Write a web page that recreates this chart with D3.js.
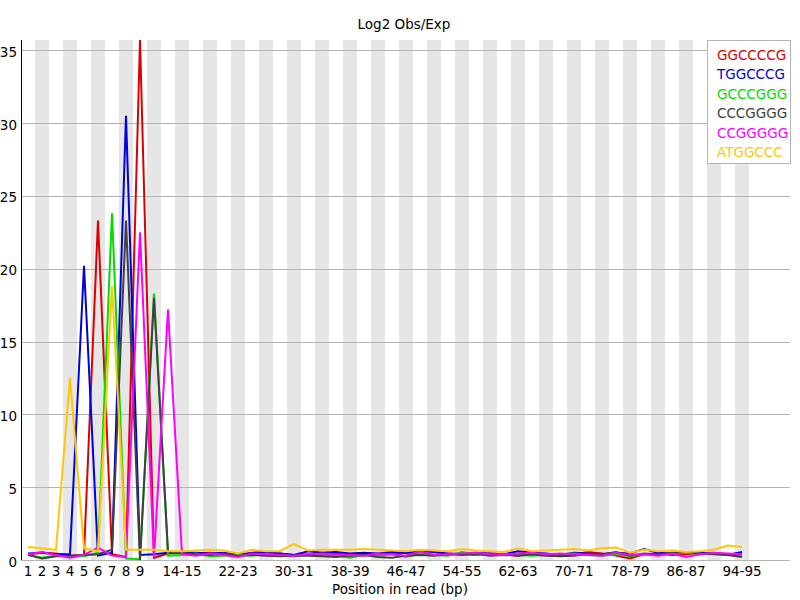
<!DOCTYPE html>
<html><head><meta charset="utf-8">
<script src="https://cdn.jsdelivr.net/npm/d3@7"></script>
<style>body{margin:0;background:#fff}svg{display:block;font-family:"DejaVu Sans",sans-serif}</style>
</head><body><svg id="c" width="800" height="600"></svg>
<script>
const categories = ["1","2","3","4","5","6","7","8","9"];
for (let p = 10; p <= 94; p += 2) categories.push(p + "-" + (p + 1));
const tickLabels = ["1","2","3","4","5","6","7","8","9","14-15","22-23","30-31","38-39","46-47","54-55","62-63","70-71","78-79","86-87","94-95"];
const seriesNames = ["GGCCCCG","TGGCCCG","GCCCGGG","CCCGGGG","CCGGGGG","ATGGCCC"];
const seriesColors = ["#dc0000","#0000dc","#00dc00","#404040","#ff00ff","#ffc800"];
const red = [0.4,0.5,0.45,0.3,0.35,23.3,0.4,0.2,35.7,0.15,0.45,0.5,0.45,0.5,0.35,0.4,0.45,0.4,0.45,0.35,0.4,0.5,0.45,0.3,0.4,0.35,0.45,0.5,0.4,0.35,0.45,0.4,0.35,0.45,0.4,0.3,0.5,0.35,0.3,0.4,0.55,0.45,0.3,0.1,0.4,0.45,0.35,0.4,0.5,0.45,0.4,0.45];
const blue = [0.45,0.5,0.4,0.4,20.2,0.3,0.5,30.5,0.35,0.4,0.5,0.55,0.5,0.45,0.5,0.35,0.5,0.55,0.45,0.35,0.6,0.5,0.55,0.45,0.5,0.45,0.55,0.5,0.6,0.55,0.45,0.4,0.5,0.45,0.4,0.6,0.5,0.45,0.35,0.5,0.45,0.4,0.5,0.45,0.75,0.5,0.45,0.55,0.5,0.45,0.35,0.55];
const green = [0.35,0.15,0.3,0.25,0.25,0.5,23.8,0.1,0.05,18.3,0.3,0.35,0.45,0.25,0.3,0.35,0.3,0.4,0.35,0.25,0.4,0.35,0.3,0.15,0.35,0.3,0.4,0.2,0.45,0.35,0.3,0.55,0.4,0.35,0.4,0.35,0.3,0.35,0.4,0.45,0.35,0.3,0.4,0.25,0.4,0.35,0.45,0.5,0.4,0.45,0.35,0.3];
const gray = [0.35,0.1,0.25,0.3,0.35,0.4,0.7,23.3,0.0,18.0,0.6,0.5,0.4,0.35,0.45,0.3,0.35,0.3,0.25,0.3,0.3,0.25,0.2,0.3,0.35,0.2,0.15,0.3,0.35,0.3,0.4,0.35,0.45,0.3,0.35,0.3,0.4,0.3,0.25,0.3,0.45,0.4,0.55,0.3,0.45,0.4,0.5,0.55,0.45,0.4,0.35,0.2];
const magenta = [0.4,0.55,0.35,0.15,0.35,0.85,0.3,0.2,22.5,0.15,17.2,0.4,0.3,0.45,0.35,0.2,0.45,0.4,0.35,0.3,0.4,0.45,0.4,0.35,0.3,0.45,0.4,0.3,0.6,0.35,0.4,0.45,0.5,0.4,0.35,0.45,0.5,0.4,0.45,0.4,0.35,0.3,0.5,0.35,0.4,0.3,0.45,0.2,0.4,0.5,0.45,0.4];
const yellow = [0.9,0.8,0.7,12.5,0.8,0.6,18.8,0.7,0.7,0.7,0.6,0.6,0.65,0.7,0.65,0.45,0.7,0.6,0.6,1.1,0.65,0.7,0.7,0.7,0.75,0.7,0.65,0.6,0.7,0.65,0.6,0.75,0.65,0.6,0.55,0.8,0.6,0.65,0.7,0.75,0.65,0.8,0.85,0.5,0.7,0.6,0.65,0.55,0.6,0.7,1.0,0.9];
const yTicks = [0,5,10,15,20,25,30,35];
const title = "Log2 Obs/Exp";
const xTitle = "Position in read (bp)";

const series = [red, blue, green, gray, magenta, yellow];
const svg = d3.select("#c");
const L = 21, R = 790, T = 40, B = 560;
const x = d3.scaleBand().domain(categories).range([L, L + categories.length * 14]);
const ymax = d3.max(series, s => d3.max(s));
const y = d3.scaleLinear().domain([0, ymax]).range([B, T]);

// stripes
svg.append("g").selectAll("rect").data(categories.filter((d, i) => i % 2 === 1)).join("rect")
  .attr("x", d => x(d)).attr("y", T).attr("width", x.bandwidth()).attr("height", B - T)
  .attr("fill", "#e6e6e6");
// grid
svg.append("g").selectAll("line").data(yTicks).join("line")
  .attr("x1", L).attr("x2", R).attr("y1", d => Math.round(y(d)) + 0.5).attr("y2", d => Math.round(y(d)) + 0.5)
  .attr("stroke", "#b4b4b4").attr("stroke-width", 1);
// y axis
svg.append("line").attr("x1", L + 0.5).attr("x2", L + 0.5).attr("y1", T).attr("y2", B).attr("stroke", "#000");
svg.append("g").selectAll("text").data(yTicks).join("text")
  .attr("x", 17).attr("y", d => y(d) + 6.5).attr("text-anchor", "end")
  .attr("font-size", 13.5).attr("fill", "#000").text(d => d);
// x labels
svg.append("g").selectAll("text").data(tickLabels).join("text")
  .attr("x", d => x(d) + x.bandwidth() / 2).attr("y", 576).attr("text-anchor", "middle")
  .attr("font-size", 13.5).attr("fill", "#000").text(d => d);
svg.append("text").attr("x", 400).attr("y", 594).attr("text-anchor", "middle")
  .attr("font-size", 13.5).text(xTitle);
svg.append("text").attr("x", 404).attr("y", 29).attr("text-anchor", "middle")
  .attr("font-size", 13.5).text(title);
// lines
const line = d3.line().x((d, i) => x(categories[i]) + x.bandwidth() / 2).y(d => y(d));
svg.append("g").selectAll("path").data(series).join("path")
  .attr("d", line).attr("fill", "none").attr("stroke", (d, i) => seriesColors[i])
  .attr("stroke-width", 2).attr("stroke-linejoin", "miter");
// legend
const lg = svg.append("g");
lg.append("rect").attr("x", 707.5).attr("y", 40.5).attr("width", 83).attr("height", 123)
  .attr("fill", "#fff").attr("stroke", "#b4b4b4");
lg.selectAll("text").data(seriesNames).join("text")
  .attr("x", 717).attr("y", (d, i) => 59.5 + i * 19.5).attr("font-size", 13.5)
  .attr("fill", (d, i) => seriesColors[i]).text(d => d);
</script></body></html>
